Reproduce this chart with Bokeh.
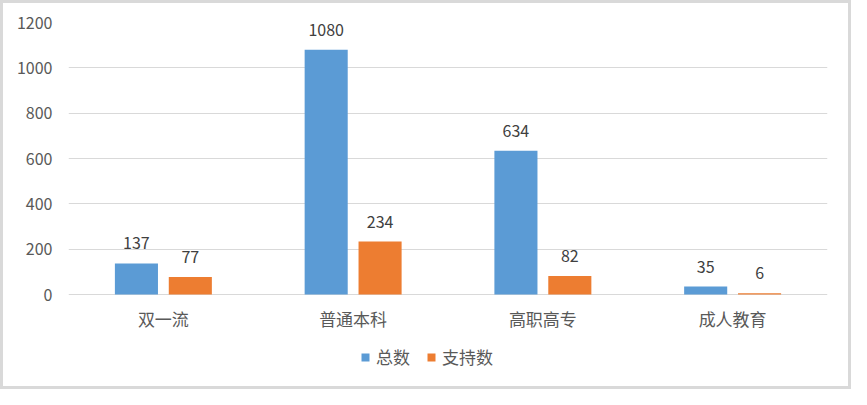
from bokeh.plotting import figure
from bokeh.models import ColumnDataSource, FactorRange, FixedTicker, Legend, LegendItem, Range1d
from bokeh.transform import dodge
from bokeh.core.properties import value
from bokeh.embed import file_html
from bokeh.resources import INLINE

categories = ["双一流", "普通本科", "高职高专", "成人教育"]
total = [137, 1080, 634, 35]
support = [77, 234, 82, 6]
series_names = ["总数", "支持数"]
y_ticks = [0, 200, 400, 600, 800, 1000, 1200]

src = ColumnDataSource(dict(
    cat=categories, total=total, support=support,
    total_lbl=[str(v) for v in total], support_lbl=[str(v) for v in support],
))

FONT = "Noto Sans CJK SC"

# frame extends below the zero line to make room for the legend inside the frame
p = figure(width=851, height=389, output_backend="svg", toolbar_location=None,
           x_range=FactorRange(factors=categories, range_padding=0),
           y_range=Range1d(-432, 1200),
           min_border_left=65, min_border_right=27, min_border_top=19, min_border_bottom=0)
p.styles = {"border": "3px solid #D9D9D9"}
p.outline_line_color = None
p.background_fill_color = "white"
p.border_fill_color = "white"

blue = "#5B9BD5"
orange = "#ED7D31"

r1 = p.vbar(x=dodge("cat", -0.142, range=p.x_range), top="total", width=0.227, source=src,
            fill_color=blue, line_color=None)
r2 = p.vbar(x=dodge("cat", 0.142, range=p.x_range), top="support", width=0.227, source=src,
            fill_color=orange, line_color=None)

p.text(x=dodge("cat", -0.142, range=p.x_range), y="total", text="total_lbl", source=src,
       text_align="center", text_baseline="alphabetic", y_offset=-20,
       text_font=value(FONT), text_font_size="16px", text_color="#404040")
p.text(x=dodge("cat", 0.142, range=p.x_range), y="support", text="support_lbl", source=src,
       text_align="center", text_baseline="alphabetic", y_offset=-20,
       text_font=value(FONT), text_font_size="16px", text_color="#404040")

p.xgrid.grid_line_color = None
p.ygrid.grid_line_color = "#D9D9D9"
p.ygrid.grid_line_width = 1
p.yaxis.ticker = FixedTicker(ticks=y_ticks)

for ax in (p.xaxis, p.yaxis):
    ax.axis_line_color = None
    ax.major_tick_line_color = None
    ax.minor_tick_line_color = None
    ax.major_label_text_font = FONT
    ax.major_label_text_color = "#595959"

p.yaxis.major_label_text_font_size = "16px"
p.yaxis.major_label_standoff = 10
p.xaxis.major_label_text_font_size = "17px"
p.xaxis.major_label_standoff = 5
p.xaxis.fixed_location = 0

legend = Legend(items=[LegendItem(label=series_names[0], renderers=[r1]),
                       LegendItem(label=series_names[1], renderers=[r2])],
                orientation="horizontal", location=(292, 23))
legend.margin = 0
legend.padding = 0
legend.spacing = 16
legend.glyph_width = 10
legend.glyph_height = 10
legend.label_standoff = 6
legend.label_text_font = FONT
legend.label_text_font_size = "17px"
legend.label_text_color = "#595959"
legend.border_line_color = None
legend.background_fill_alpha = 0
p.add_layout(legend, "center")

open("out.html", "w").write(file_html(p, INLINE))
